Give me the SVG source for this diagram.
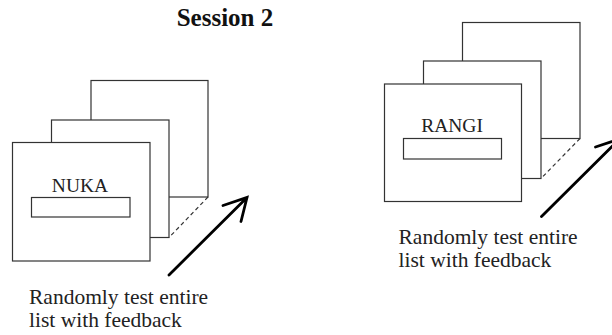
<svg xmlns="http://www.w3.org/2000/svg" width="612" height="335" viewBox="0 0 612 335">
<style>
.card{fill:#fff;stroke:#333;stroke-width:1.2}
.box{fill:#fff;stroke:#333;stroke-width:1.2}
.dash{fill:none;stroke:#333;stroke-width:1.2;stroke-dasharray:4 3}
.arrow{fill:none;stroke:#000;stroke-width:2.8;stroke-linecap:round;stroke-linejoin:miter}
.lbl{font-family:"Liberation Serif","Times New Roman",serif;fill:#222}
.title{font-family:"Liberation Serif","Times New Roman",serif;font-weight:bold;font-size:25px;fill:#111}
</style>
<rect width="612" height="335" fill="#fff"/>
<text id="title" class="title" x="225" y="26" text-anchor="middle">Session 2</text>
<g id="stack-nuka">
<rect class="card" x="91" y="80.5" width="117" height="116.5"/>
<rect class="card" x="51.5" y="120" width="117.5" height="117.5"/>
<rect class="card" x="12.5" y="142.5" width="137.5" height="118.5"/>
<text class="lbl" x="80" y="191.5" font-size="19.5" text-anchor="middle">NUKA</text>
<rect class="box" x="31.5" y="197.5" width="98.5" height="19.5"/>
</g>
<g id="stack-rangi">
<rect class="card" x="462.5" y="22.5" width="117.5" height="116"/>
<rect class="card" x="423.5" y="61" width="117.5" height="117.5"/>
<rect class="card" x="384.5" y="84" width="137" height="117.5"/>
<text class="lbl" x="452" y="131.5" font-size="19.5" text-anchor="middle">RANGI</text>
<rect class="box" x="403.5" y="138.5" width="98" height="20.5"/>
</g>
<g id="connectors">
<line class="dash" x1="208" y1="197" x2="169" y2="237.5"/>
<line class="dash" x1="580" y1="138.5" x2="541" y2="178.5"/>
<path class="arrow" d="M169 275 L247 197.5 M223 205.5 L247 197.5 L241 221.5"/>
<path class="arrow" d="M541.5 216.5 L619.5 139 M595.5 147 L619.5 139 L613.5 163"/>
</g>
<g id="label-left">
<text class="lbl" x="29" y="304" font-size="21.5">Randomly test entire</text>
<text class="lbl" x="29" y="327" font-size="21.5">list with feedback</text>
</g>
<g id="label-right">
<text class="lbl" x="398.5" y="244" font-size="21.5">Randomly test entire</text>
<text class="lbl" x="398.5" y="267" font-size="21.5">list with feedback</text>
</g>
</svg>
